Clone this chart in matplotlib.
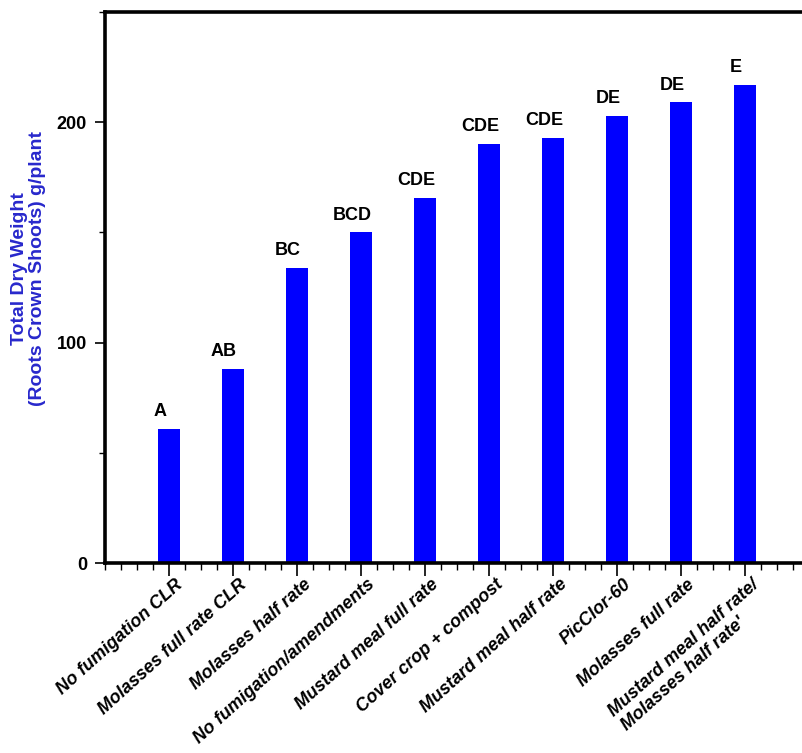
import matplotlib.pyplot as plt
import numpy as np
from matplotlib.ticker import MultipleLocator
from matplotlib.transforms import offset_copy

plt.rcParams['font.family'] = ['Liberation Sans', 'DejaVu Sans']

# treatments and total dry weight per plant
treatments = ["No fumigation CLR", "Molasses full rate CLR", "Molasses half rate",
              "No fumigation/amendments", "Mustard meal full rate", "Cover crop + compost",
              "Mustard meal half rate", "PicClor-60", "Molasses full rate",
              "Mustard meal half rate/\nMolasses half rate'"]
dry_weight = [61, 88, 134, 150, 165.5, 190, 193, 203, 209, 217]
groups = ["A", "AB", "BC", "BCD", "CDE", "CDE", "CDE", "DE", "DE", "E"]

x = np.arange(len(treatments))

fig = plt.figure(figsize=(8.03, 7.53), dpi=100)
ax = fig.add_axes([105/803, 190/753, 704/803, 551/753])

ax.bar(x, dry_weight, width=0.34, color='#0000FF', zorder=2)

# significance letters above each bar
for xi, v, g in zip(x, dry_weight, groups):
    ax.text(xi - 0.14, v + 4, g, ha='center', va='bottom',
            fontsize=13, fontweight='bold', color='black')

ax.set_xlim(-1, 10)
ax.set_ylim(0, 250)

ax.set_xticks(x)
ax.set_xticklabels([])
ax.xaxis.set_minor_locator(MultipleLocator(0.25))
ax.yaxis.set_major_locator(MultipleLocator(100))
ax.yaxis.set_minor_locator(MultipleLocator(50))

ax.tick_params(axis='x', which='major', length=9, width=1.2, direction='out')
ax.tick_params(axis='x', which='minor', length=5, width=1.0, direction='out')
ax.tick_params(axis='y', which='major', length=7, width=1.2, pad=6,
               labelsize=13)
ax.tick_params(axis='y', which='minor', length=4, width=1.0)
for lab in ax.get_yticklabels():
    lab.set_fontweight('bold')

# rotated treatment names
trans = offset_copy(ax.get_xaxis_transform(), fig=fig, x=6, y=-13, units='dots')
for xi, name in zip(x, treatments):
    ax.text(xi, 0, name, transform=trans, rotation=42, rotation_mode='anchor',
            ha='right', va='top', multialignment='left', linespacing=1.15,
            fontsize=13, fontweight='bold', fontstyle='italic')

for side in ['left', 'top', 'bottom']:
    ax.spines[side].set_linewidth(2.6)
ax.spines['right'].set_visible(False)

ax.set_ylabel("Total Dry Weight\n(Roots Crown Shoots) g/plant",
              color='#2828CC', fontsize=14, fontweight='bold', linespacing=1.05)
ax.yaxis.set_label_coords(-0.084, 0.535)

fig.savefig("out.png", dpi=100)
